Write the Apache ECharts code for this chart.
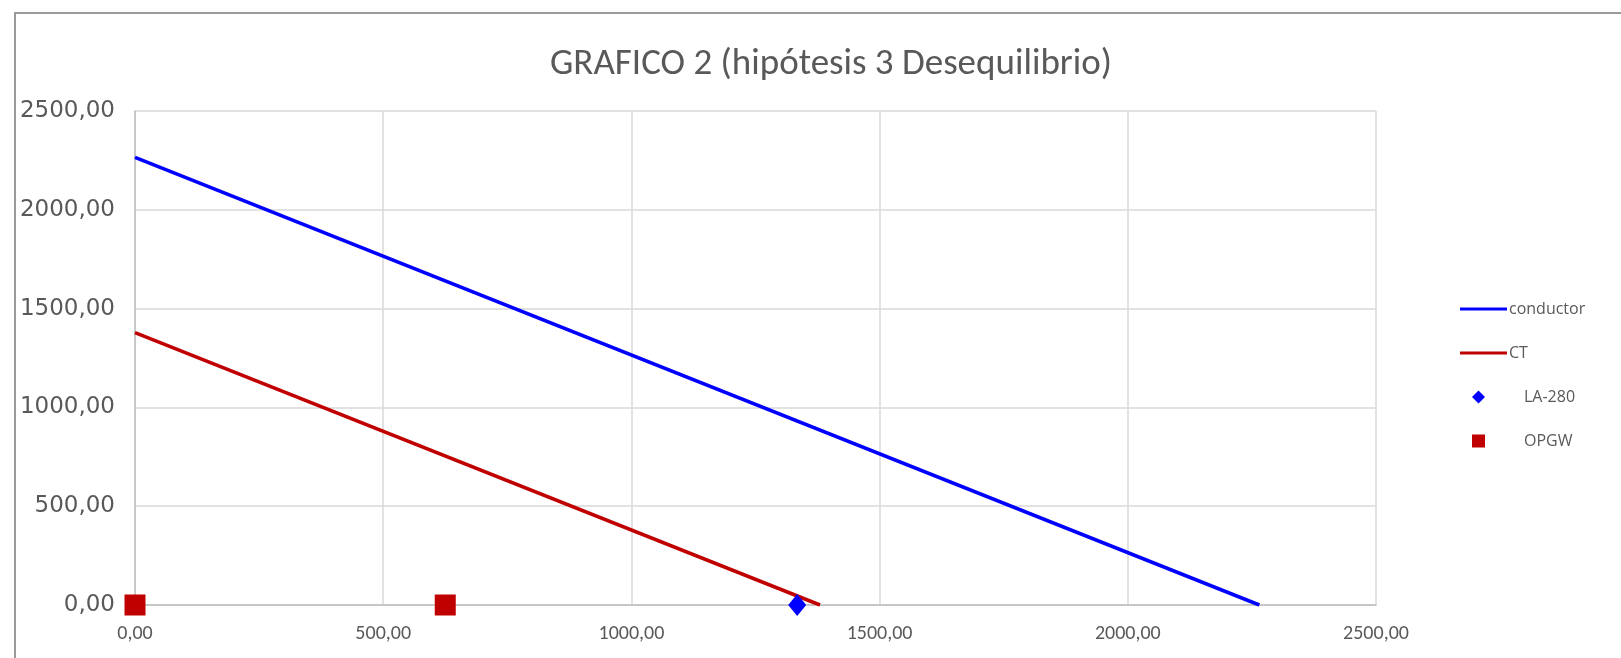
<!DOCTYPE html>
<html>
<head>
<meta charset="utf-8">
<script src="https://cdn.jsdelivr.net/npm/echarts@6/dist/echarts.min.js"></script>
<style>html,body{margin:0;padding:0;background:#fff;}#c{width:1621px;height:658px;}</style>
</head>
<body>
<div id="c"></div>
<script>
const titleText = 'GRAFICO 2 (hipótesis 3 Desequilibrio)';
const seriesNames = ['conductor', 'CT', 'LA-280', 'OPGW'];
const conductorX = [0, 2265];
const conductorY = [2265, 0];
const ctX = [0, 1380];
const ctY = [1378, 0];
const la280X = [1334];
const la280Y = [0];
const opgwX = [0, 625];
const opgwY = [0, 0];
const axisTicks = [0, 500, 1000, 1500, 2000, 2500];

const zip = (xs, ys) => xs.map((x, i) => [x, ys[i]]);
const fmt = v => v.toFixed(2).replace('.', ',');
const calib = 'Carlito, Lato, "Open Sans", sans-serif';
const legFont = '"Open Sans", sans-serif';

const chart = echarts.init(document.getElementById('c'));
chart.setOption({
  animation: false,
  backgroundColor: '#fff',
  graphic: [{
    type: 'rect', shape: {x: 15, y: 13, width: 1700, height: 700},
    style: {fill: 'none', stroke: '#9a9a9a', lineWidth: 2}, silent: true, z: -1
  }],
  title: {
    text: titleText, left: 545, top: 39,
    textStyle: {fontFamily: calib, fontSize: 37, fontWeight: 'normal', color: '#595959', lineHeight: 42}
  },
  grid: {left: 135, right: 245, top: 111, bottom: 53, containLabel: false},
  xAxis: {
    type: 'value', min: axisTicks[0], max: axisTicks[axisTicks.length - 1], interval: 500,
    axisLine: {show: true, lineStyle: {color: '#bfbfbf', width: 1.5}},
    axisTick: {show: false},
    splitLine: {show: true, lineStyle: {color: '#d9d9d9', width: 1.5}},
    axisLabel: {formatter: fmt, margin: 19, color: '#595959', fontSize: 20, fontFamily: calib}
  },
  yAxis: {
    type: 'value', min: axisTicks[0], max: axisTicks[axisTicks.length - 1], interval: 500,
    axisLine: {show: true, lineStyle: {color: '#bfbfbf', width: 1.5}},
    axisTick: {show: false},
    splitLine: {show: true, lineStyle: {color: '#d9d9d9', width: 1.5}},
    axisLabel: {formatter: fmt, margin: 20, color: '#595959', fontSize: 23, fontFamily: '"DejaVu Sans", sans-serif'}
  },
  legend: [{
    data: [seriesNames[0], seriesNames[1]], orient: 'vertical', left: 1455, top: 294,
    icon: 'rect', itemWidth: 47, itemHeight: 3, itemGap: 24,
    textStyle: {fontSize: 16, lineHeight: 20, color: '#595959', fontFamily: legFont, padding: [0,0,0,-3]}
  }, {
    data: [seriesNames[2], seriesNames[3]], orient: 'vertical', left: 1467, top: 382,
    itemWidth: 13, itemHeight: 13, itemGap: 24,
    textStyle: {fontSize: 16, lineHeight: 20, color: '#595959', fontFamily: legFont, padding: [0,0,0,34]}
  }],
  series: [{
    name: seriesNames[0], type: 'line', data: zip(conductorX, conductorY), symbol: 'none',
    lineStyle: {color: '#0000ff', width: 3.5}, itemStyle: {color: '#0000ff'}
  }, {
    name: seriesNames[1], type: 'line', data: zip(ctX, ctY), symbol: 'none',
    lineStyle: {color: '#c00000', width: 3.5}, itemStyle: {color: '#c00000'}
  }, {
    name: seriesNames[2], type: 'scatter', data: zip(la280X, la280Y), symbol: 'diamond', symbolSize: [18, 22],
    itemStyle: {color: '#0000ff', opacity: 1}, z: 5
  }, {
    name: seriesNames[3], type: 'scatter', data: zip(opgwX, opgwY), symbol: 'rect', symbolSize: 21,
    itemStyle: {color: '#c00000', opacity: 1}, z: 5
  }]
});
</script>
</body>
</html>
